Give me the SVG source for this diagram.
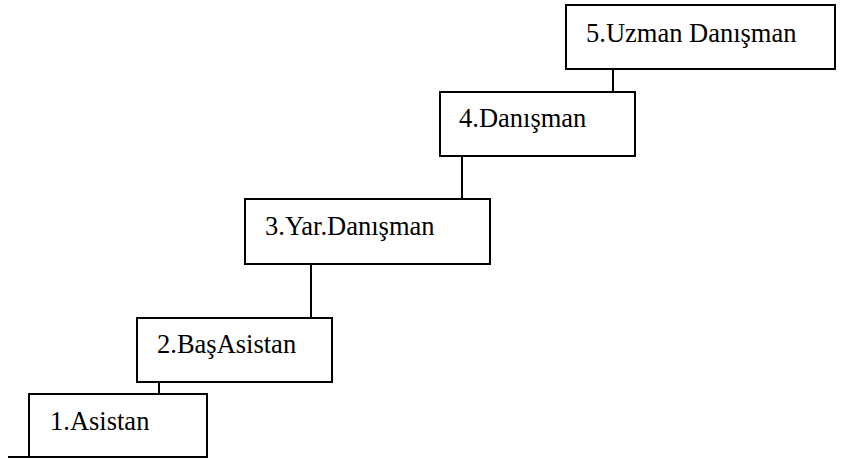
<svg xmlns="http://www.w3.org/2000/svg" width="861" height="459" viewBox="0 0 861 459">
<style>
.box{fill:#fff;stroke:#000;stroke-width:2}
.lbl{font-family:"Liberation Serif","Times New Roman",serif;font-size:26.5px;fill:#000}
.con{stroke:#000;stroke-width:2;fill:none}
</style>
<rect width="861" height="459" fill="#fff"/>
<g id="connectors">
<line class="con" x1="159" y1="382" x2="159" y2="394"/>
<line class="con" x1="311" y1="264" x2="311" y2="318"/>
<line class="con" x1="462" y1="156" x2="462" y2="199"/>
<line class="con" x1="613" y1="69" x2="613" y2="92"/>
<line class="con" x1="8" y1="457" x2="29" y2="457"/>
</g>
<g id="node1">
<rect class="box" x="29" y="394" width="178" height="63"/>
<text class="lbl" x="50" y="430">1.Asistan</text>
</g>
<g id="node2">
<rect class="box" x="137" y="318" width="195" height="64"/>
<text class="lbl" x="157" y="353">2.BaşAsistan</text>
</g>
<g id="node3">
<rect class="box" x="245" y="199" width="245" height="65"/>
<text class="lbl" x="265" y="235">3.Yar.Danışman</text>
</g>
<g id="node4">
<rect class="box" x="440" y="92" width="195" height="64"/>
<text class="lbl" x="459" y="127">4.Danışman</text>
</g>
<g id="node5">
<rect class="box" x="566" y="5" width="269" height="64"/>
<text class="lbl" x="586" y="42">5.Uzman Danışman</text>
</g>
</svg>
